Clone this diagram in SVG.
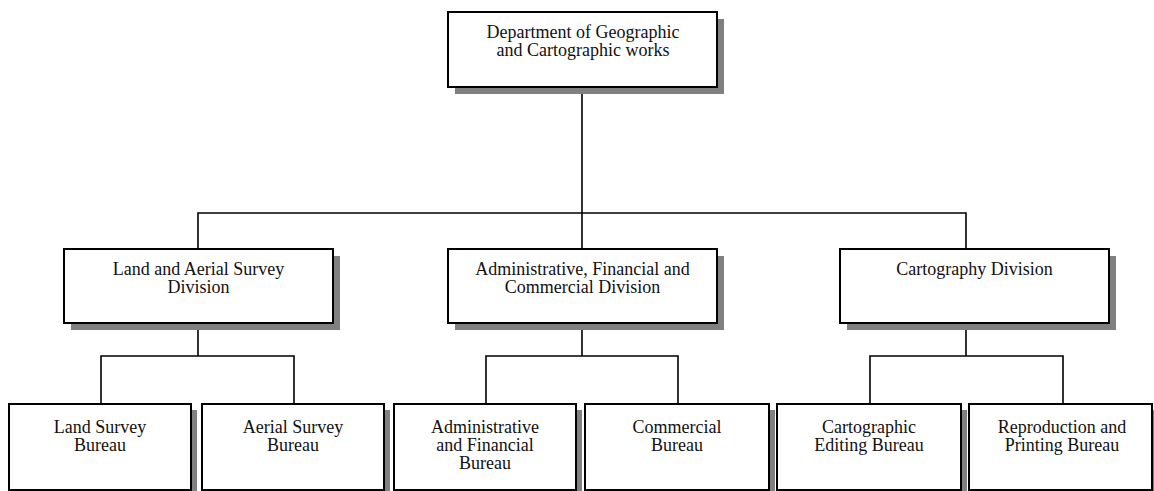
<svg xmlns="http://www.w3.org/2000/svg" width="1154" height="491" viewBox="0 0 1154 491">
<style>
.sh{fill:#808080;stroke:none}
.bx{fill:#fff;stroke:#000;stroke-width:2}
.t{font-family:"Liberation Serif","Times New Roman",serif;font-size:18px;fill:#111;text-anchor:middle}
.c{fill:none;stroke:#000;stroke-width:1.6}
</style>
<rect width="1154" height="491" fill="#fff"/>
<g id="connectors">
<path class="c" d="M582 87V249M198 249V213H966V249"/>
<path class="c" d="M198 323V356M101 404V356H294V404"/>
<path class="c" d="M582 323V356M486 404V356H678V404"/>
<path class="c" d="M966 323V356M870 404V356H1063V404"/>
</g>
<g id="n-dept">
<rect class="sh" x="455" y="19" width="269" height="75"/>
<rect class="bx" x="448" y="12" width="269" height="75"/>
<text class="t" x="583" y="37.5">Department of Geographic</text>
<text class="t" x="583" y="55.5">and Cartographic works</text>
</g>
<g id="n-land-aerial">
<rect class="sh" x="71" y="256" width="269" height="74"/>
<rect class="bx" x="64" y="249" width="269" height="74"/>
<text class="t" x="198.5" y="274.5">Land and Aerial Survey</text>
<text class="t" x="198.5" y="292.5">Division</text>
</g>
<g id="n-admin-div">
<rect class="sh" x="455" y="256" width="269" height="74"/>
<rect class="bx" x="448" y="249" width="269" height="74"/>
<text class="t" x="582.5" y="274.5">Administrative, Financial and</text>
<text class="t" x="582.5" y="292.5">Commercial Division</text>
</g>
<g id="n-carto-div">
<rect class="sh" x="847" y="256" width="269" height="74"/>
<rect class="bx" x="840" y="249" width="269" height="74"/>
<text class="t" x="974.5" y="274.5">Cartography Division</text>
</g>
<g id="n-land-bureau">
<rect class="sh" x="15" y="410" width="182" height="90"/>
<rect class="bx" x="9" y="404" width="182" height="86"/>
<text class="t" x="100" y="433">Land Survey</text>
<text class="t" x="100" y="451">Bureau</text>
</g>
<g id="n-aerial-bureau">
<rect class="sh" x="208" y="410" width="182" height="90"/>
<rect class="bx" x="202" y="404" width="182" height="86"/>
<text class="t" x="293" y="433">Aerial Survey</text>
<text class="t" x="293" y="451">Bureau</text>
</g>
<g id="n-admin-bureau">
<rect class="sh" x="400" y="410" width="182" height="90"/>
<rect class="bx" x="394" y="404" width="182" height="86"/>
<text class="t" x="485" y="433">Administrative</text>
<text class="t" x="485" y="451">and Financial</text>
<text class="t" x="485" y="469">Bureau</text>
</g>
<g id="n-commercial-bureau">
<rect class="sh" x="591" y="410" width="184" height="90"/>
<rect class="bx" x="585" y="404" width="184" height="86"/>
<text class="t" x="677" y="433">Commercial</text>
<text class="t" x="677" y="451">Bureau</text>
</g>
<g id="n-carto-edit">
<rect class="sh" x="783" y="410" width="184" height="90"/>
<rect class="bx" x="777" y="404" width="184" height="86"/>
<text class="t" x="869" y="433">Cartographic</text>
<text class="t" x="869" y="451">Editing Bureau</text>
</g>
<g id="n-repro">
<rect class="sh" x="975" y="410" width="183" height="90"/>
<rect class="bx" x="969" y="404" width="183" height="86"/>
<text class="t" x="1062" y="433">Reproduction and</text>
<text class="t" x="1062" y="451">Printing Bureau</text>
</g>
</svg>
